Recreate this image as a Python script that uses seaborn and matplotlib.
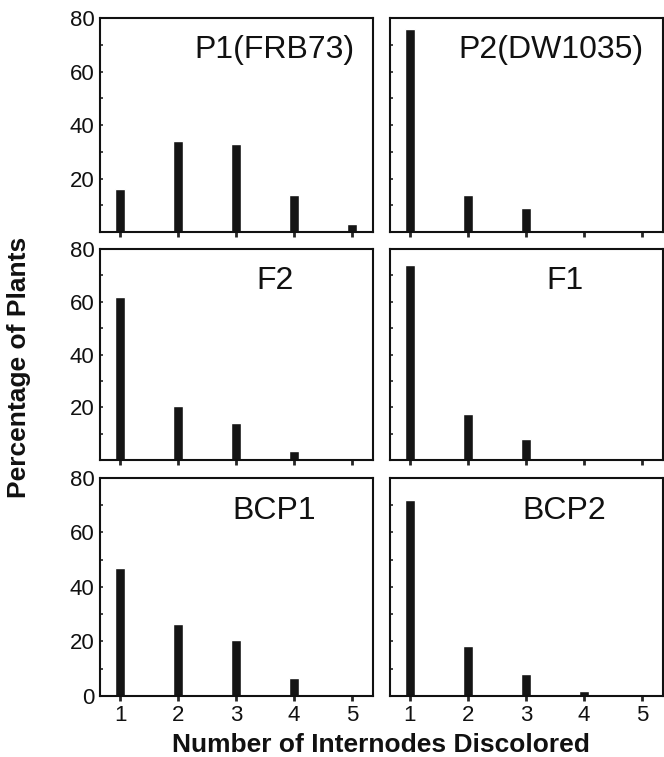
import pandas as pd
import seaborn as sns
import matplotlib.pyplot as plt
from matplotlib.ticker import MultipleLocator

# internodes discolored (x categories)
internodes = [1, 2, 3, 4, 5]

# percentage of plants per population
p1_frb73 = [16, 34, 33, 14, 3]
p2_dw1035 = [76, 14, 9, 0.5, 0.2]
f2 = [62, 20.5, 14, 3.5, 0.4]
f1 = [74, 17.5, 8, 0.4, 0.3]
bcp1 = [47, 26.5, 20.5, 6.5, 0.4]
bcp2 = [72, 18.5, 8, 2, 0.2]

populations = ["P1(FRB73)", "P2(DW1035)", "F2", "F1", "BCP1", "BCP2"]
values = [p1_frb73, p2_dw1035, f2, f1, bcp1, bcp2]

rows = []
for pop, vals in zip(populations, values):
    for n, v in zip(internodes, vals):
        rows.append([pop, n, v])
alldata = pd.DataFrame(rows, columns=["population", "internodes", "percent"])

sns.set_style("ticks")
plt.rcParams['font.family'] = ['Liberation Sans', 'DejaVu Sans']

fig = plt.figure(figsize=(6.64, 7.57), dpi=100)

col_x = [0.1506, 0.5873]
row_y = [(0.6935, 0.2827), (0.3923, 0.2787), (0.0806, 0.288)]
title_x = [0.64, 0.59, 0.64, 0.64, 0.64, 0.64]

for i, pop in enumerate(populations):
    r, c = divmod(i, 2)
    ax = fig.add_axes([col_x[c], row_y[r][0], 0.411, row_y[r][1]])
    sub = alldata.loc[alldata["population"] == pop]
    sns.barplot(data=sub, x="internodes", y="percent", order=internodes,
                color="#151515", saturation=1, width=0.17, ax=ax)
    ax.set(xlabel=None, ylabel=None)
    ax.set_xlim(-0.345, 4.36)
    ax.set_ylim(0, 80)
    for s in ax.spines.values():
        s.set_visible(True)
        s.set_linewidth(1.5)
        s.set_color("#111111")
    ax.yaxis.set_minor_locator(MultipleLocator(10))
    ax.tick_params(axis="y", which="both", direction="in", length=2.5,
                   width=1.2, labelsize=16, pad=4, labelcolor="#111111")
    ax.tick_params(axis="x", direction="out", length=3.5, width=2,
                   labelsize=16, pad=3, labelcolor="#111111")
    if r == 2:
        ax.set_yticks([0, 20, 40, 60, 80])
    else:
        ax.set_yticks([20, 40, 60, 80])
        ax.set_xticklabels([])
    if c == 1:
        ax.set_yticklabels([])
    ax.text(title_x[i], 0.85, pop, transform=ax.transAxes, ha="center",
            va="center", fontsize=23, color="#111111")

fig.text(0.028, 0.515, "Percentage of Plants", rotation=90, ha="center",
         va="center", fontsize=19, fontweight="bold", color="#111111")
fig.text(0.573, 0.016, "Number of Internodes Discolored", ha="center",
         va="center", fontsize=19, fontweight="bold", color="#111111")

plt.savefig("out.png", dpi=100)
